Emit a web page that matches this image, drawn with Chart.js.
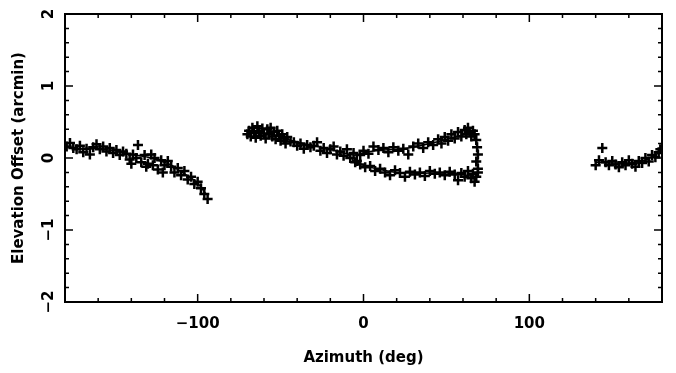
<!DOCTYPE html>
<html>
<head>
<meta charset="utf-8">
<script src="https://cdn.jsdelivr.net/npm/chart.js@4.4.1/dist/chart.umd.min.js"></script>
<style>
    body { margin: 0; background: #fff; }
    #wrap { width: 676px; height: 373px; }
</style>
</head>
<body>
<div id="wrap"><canvas id="offsetChart"></canvas></div>
<script>
// measured points, first stretch (azimuth in deg, offset in arcmin)
const az1 = [-179, -177, -175, -173, -171, -169, -167, -165, -163, -161, -159, -157, -155, -153, -151,
    -149, -147, -145, -143, -141, -140, -139, -137, -136, -134, -132, -131, -130, -128, -127, -126, -124,
    -122, -121, -120, -118, -116, -114, -112, -110, -108, -106, -104, -102, -100, -98, -96, -94];
const el1 = [0.16, 0.21, 0.14, 0.12, 0.17, 0.08, 0.13, 0.05, 0.15, 0.19, 0.12, 0.16, 0.09, 0.14, 0.07,
    0.11, 0.04, 0.09, 0.06, -0.02, -0.08, 0.05, 0.0, 0.18, -0.06, 0.04, -0.12, -0.08, 0.05, -0.1, 0.0, -0.16,
    -0.03, -0.2, -0.1, -0.04, -0.12, -0.2, -0.14, -0.24, -0.18, -0.3, -0.26, -0.36, -0.33, -0.42, -0.5, -0.57];

// second stretch, upper branch then lower branch
const az2 = [-70, -69, -68, -67, -66, -65, -64, -63, -62, -61, -60, -59, -58, -57, -56, -55, -54, -53,
    -52, -51, -50, -49, -48, -47, -46, -44, -42, -40, -38, -36, -34, -32, -30, -28, -26, -24, -22, -20,
    -18, -16, -14, -12, -10, -8, -6, -4, -2, 0, 3, 6, 9, 12, 15, 18, 21, 24, 27, 30, 33, 36, 39, 42, 45,
    47, 49, 51, 53, 55, 57, 59, 61, 62, 63, 64, 65, 66, 67, 68, 68.5, 69, 68, 69,
    -5, -2, 1, 4, 7, 10, 13, 16, 19, 22, 25, 28, 31, 34, 37, 40, 43, 46, 49, 52, 55, 57, 59, 61, 63,
    65, 66, 67, 68, 69];
const el2 = [0.33, 0.38, 0.3, 0.42, 0.35, 0.28, 0.44, 0.37, 0.31, 0.41, 0.34, 0.27, 0.4, 0.33, 0.42, 0.3,
    0.36, 0.26, 0.38, 0.31, 0.24, 0.33, 0.27, 0.2, 0.29, 0.23, 0.22, 0.17, 0.2, 0.13, 0.18, 0.15, 0.17,
    0.22, 0.1, 0.14, 0.07, 0.12, 0.16, 0.05, 0.09, 0.03, 0.12, 0.0, 0.07, -0.04, 0.04, 0.1, 0.06, 0.16,
    0.11, 0.14, 0.08, 0.15, 0.1, 0.13, 0.05, 0.16, 0.2, 0.14, 0.22, 0.18, 0.26, 0.2, 0.29, 0.24, 0.33,
    0.27, 0.36, 0.3, 0.39, 0.33, 0.42, 0.36, 0.3, 0.38, 0.33, 0.25, 0.15, 0.05, -0.05, -0.15,
    -0.06, -0.09, -0.13, -0.11, -0.18, -0.15, -0.2, -0.24, -0.17, -0.21, -0.26, -0.19, -0.23, -0.2,
    -0.25, -0.18, -0.22, -0.2, -0.24, -0.19, -0.23, -0.31, -0.21, -0.26, -0.18, -0.28, -0.22, -0.33,
    -0.26, -0.2];

// third stretch
const az3 = [140, 142, 144, 146, 148, 150, 152, 154, 156, 158, 160, 162, 164, 166, 168, 170, 172, 174, 176, 178, 179];
const el3 = [-0.1, -0.03, 0.14, -0.06, -0.1, -0.04, -0.09, -0.13, -0.06, -0.1, -0.03, -0.08, -0.12, -0.04,
    -0.07, 0.0, -0.05, 0.04, 0.01, 0.08, 0.12];

// fitted curve through each stretch
const fitAz1 = [-180, -170, -160, -150, -140, -130, -120, -115, -110, -105, -100, -95];
const fitEl1 = [0.16, 0.13, 0.13, 0.1, 0.05, 0.01, -0.06, -0.11, -0.19, -0.26, -0.35, -0.5];
const fitAz2 = [-70, -60, -50, -40, -30, -20, -10, -5, 0, 10, 20, 30, 40, 50, 60, 66, 68, 69, 68, 60, 50, 40, 30, 20, 10, 0, -5, -10];
const fitEl2 = [0.36, 0.34, 0.29, 0.22, 0.17, 0.12, 0.06, 0.04, 0.07, 0.11, 0.12, 0.15, 0.2, 0.26, 0.32, 0.34,
    0.25, -0.05, -0.25, -0.23, -0.21, -0.21, -0.21, -0.2, -0.16, -0.1, -0.05, 0.06];
const fitAz3 = [140, 150, 160, 170, 180];
const fitEl3 = [-0.06, -0.07, -0.07, -0.03, 0.1];

const xTicks = [-100, 0, 100];
const yTicks = [-2, -1, 0, 1, 2];
const xTitle = 'Azimuth (deg)';
const yTitle = 'Elevation Offset (arcmin)';

const fontFamily = '"DejaVu Sans", sans-serif';
const ink = '#000';

function pairs(xs, ys) {
    return xs.map((x, i) => ({x: x, y: ys[i]}));
}

function pointSet(xs, ys) {
    return {
        data: pairs(xs, ys),
        pointStyle: 'cross',
        pointRadius: 5,
        borderColor: ink,
        borderWidth: 2.5,
        showLine: false
    };
}

function fitSet(xs, ys) {
    return {
        data: pairs(xs, ys),
        pointRadius: 0,
        borderColor: ink,
        borderWidth: 1.5,
        showLine: true,
        tension: 0.3
    };
}

// frame, inward ticks and rotated y labels
const framePlugin = {
    id: 'frame',
    afterDraw(chart) {
        const ctx = chart.ctx;
        const area = chart.chartArea;
        const xs = chart.scales.x;
        const ys = chart.scales.y;
        ctx.save();
        ctx.strokeStyle = ink;
        ctx.lineWidth = 2;
        ctx.strokeRect(area.left, area.top, area.right - area.left, area.bottom - area.top);

        ctx.lineWidth = 1.5;
        ctx.beginPath();
        for (let v = -160; v <= 160; v += 20) {
            const px = xs.getPixelForValue(v);
            const len = xTicks.includes(v) ? 8 : 4;
            ctx.moveTo(px, area.bottom);
            ctx.lineTo(px, area.bottom - len);
            ctx.moveTo(px, area.top);
            ctx.lineTo(px, area.top + len);
        }
        for (let i = -9; i <= 9; i++) {
            const v = i / 5;
            const py = ys.getPixelForValue(v);
            const len = i % 5 === 0 ? 8 : 4;
            ctx.moveTo(area.left, py);
            ctx.lineTo(area.left + len, py);
            ctx.moveTo(area.right, py);
            ctx.lineTo(area.right - len, py);
        }
        ctx.stroke();

        ctx.fillStyle = ink;
        ctx.font = 'bold 15px ' + fontFamily;
        ctx.textAlign = 'center';
        ctx.textBaseline = 'middle';
        yTicks.forEach(v => {
            const py = ys.getPixelForValue(v);
            ctx.save();
            ctx.translate(49, py);
            ctx.rotate(-Math.PI / 2);
            ctx.fillText(String(v).replace('-', '\u2212'), 0, 0);
            ctx.restore();
        });
        ctx.restore();
    }
};

const ctx = document.getElementById('offsetChart').getContext('2d');
new Chart(ctx, {
    type: 'scatter',
    data: {
        datasets: [
            pointSet(az1, el1), pointSet(az2, el2), pointSet(az3, el3),
            fitSet(fitAz1, fitEl1), fitSet(fitAz2, fitEl2), fitSet(fitAz3, fitEl3)
        ]
    },
    options: {
        responsive: true,
        maintainAspectRatio: false,
        animation: false,
        layout: {padding: {top: 14, right: 14, left: 0, bottom: 0}},
        plugins: {legend: {display: false}, tooltip: {enabled: false}},
        scales: {
            x: {
                type: 'linear',
                min: -180,
                max: 180,
                grid: {display: false, drawTicks: false},
                border: {display: false},
                afterBuildTicks: scale => { scale.ticks = xTicks.map(v => ({value: v})); },
                afterFit: scale => { scale.height = 71; },
                ticks: {
                    color: ink,
                    padding: 13,
                    maxRotation: 0,
                    font: {family: fontFamily, size: 15, weight: 'bold'},
                    callback: v => String(v).replace('-', '\u2212')
                },
                title: {
                    display: true,
                    text: xTitle,
                    color: ink,
                    font: {family: fontFamily, size: 15, weight: 'bold'},
                    padding: {top: 0, bottom: 6}
                }
            },
            y: {
                type: 'linear',
                min: -2,
                max: 2,
                grid: {display: false, drawTicks: false},
                border: {display: false},
                afterFit: scale => { scale.width = 65; },
                ticks: {display: false},
                title: {
                    display: true,
                    text: yTitle,
                    color: ink,
                    font: {family: fontFamily, size: 15, weight: 'bold'},
                    padding: {top: 10, bottom: 0}
                }
            }
        }
    },
    plugins: [framePlugin]
});
</script>
</body>
</html>
